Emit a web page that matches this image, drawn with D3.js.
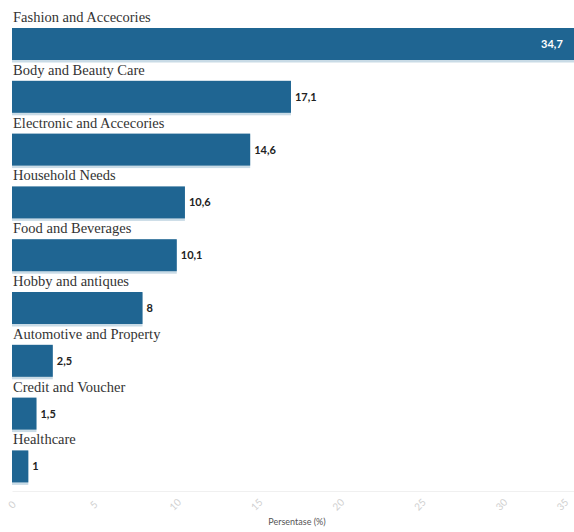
<!DOCTYPE html>
<html>
<head>
<meta charset="utf-8">
<script src="https://cdn.jsdelivr.net/npm/d3@7/dist/d3.min.js"></script>
<style>
  body { margin: 0; background: #fff; }
  .cat { font-family: "Liberation Serif", "Times New Roman", serif; font-size: 14.5px; fill: #333; }
  .val { font-family: Lato, "Open Sans", sans-serif; font-size: 11px; font-weight: bold; fill: #222; }
  .tick text { font-family: Lato, sans-serif; font-size: 10px; fill: #d0d0d0; }
</style>
</head>
<body>
<svg id="chart" width="574" height="532"></svg>
<script>
    // data
    var categories = ['Fashion and Accecories', 'Body and Beauty Care', 'Electronic and Accecories',
            'Household Needs', 'Food and Beverages', 'Hobby and antiques',
            'Automotive and Property', 'Credit and Voucher', 'Healthcare'],
        values = [34.7, 17.1, 14.6, 10.6, 10.1, 8, 2.5, 1.5, 1],
        tickValues = [0, 5, 10, 15, 20, 25, 30, 35];

    var svg = d3.select('#chart'),
        barColor = '#1f6592',
        barH = 32;

    var x = d3.scaleLinear().domain([0, 35]).range([12, 583]);
    var y = d3.scaleBand().domain(categories).range([8, 8 + 9 * 52.8]).paddingInner(0).paddingOuter(0);

    var fmt = function (v) { return String(v).replace('.', ','); };

    var rows = svg.selectAll('g.row').data(categories).enter()
        .append('g').attr('class', 'row');

    rows.append('text')
        .attr('class', 'cat')
        .attr('x', x(0) + 1)
        .attr('y', function (d) { return y(d) + 14; })
        .text(function (d) { return d; });

    // faint shadow under each bar
    rows.append('rect')
        .attr('x', x(0))
        .attr('y', function (d) { return y(d) + 21; })
        .attr('width', function (d, i) { return x(values[i]) - x(0); })
        .attr('height', barH + 1.5)
        .attr('fill', '#c9dbe6');

    rows.append('rect')
        .attr('x', x(0))
        .attr('y', function (d) { return y(d) + 20; })
        .attr('width', function (d, i) { return x(values[i]) - x(0); })
        .attr('height', barH)
        .attr('fill', barColor);

    rows.append('text')
        .attr('class', 'val')
        .attr('x', function (d, i) { return values[i] > 30 ? x(values[i]) - 37 : x(values[i]) + 4; })
        .attr('y', function (d) { return y(d) + 20 + barH / 2 + 4; })
        .style('fill', function (d, i) { return values[i] > 30 ? '#fff' : '#222'; })
        .text(function (d, i) { return fmt(values[i]); });

    var axis = d3.axisBottom(x).tickValues(tickValues).tickSize(0).tickFormat(d3.format('d'));
    var gAxis = svg.append('g').attr('transform', 'translate(0,491)').call(axis);
    gAxis.select('.domain').attr('stroke', '#f0f0f0');
    gAxis.selectAll('.tick text')
        .attr('dy', null)
        .attr('transform', 'translate(0,14) rotate(-45)')
        .style('text-anchor', 'middle');
    // last label sits on the right edge in the original; keep it inside the frame
    gAxis.selectAll('.tick').filter(function (d) { return d === 35; })
        .attr('transform', 'translate(' + (x(35) - 20) + ',0)');

    svg.append('text')
        .attr('x', 297)
        .attr('y', 525)
        .attr('text-anchor', 'middle')
        .style('font-family', 'Lato, "Open Sans", sans-serif')
        .style('font-size', '9px')
        .style('fill', '#555')
        .text('Persentase (%)');
</script>
</body>
</html>
